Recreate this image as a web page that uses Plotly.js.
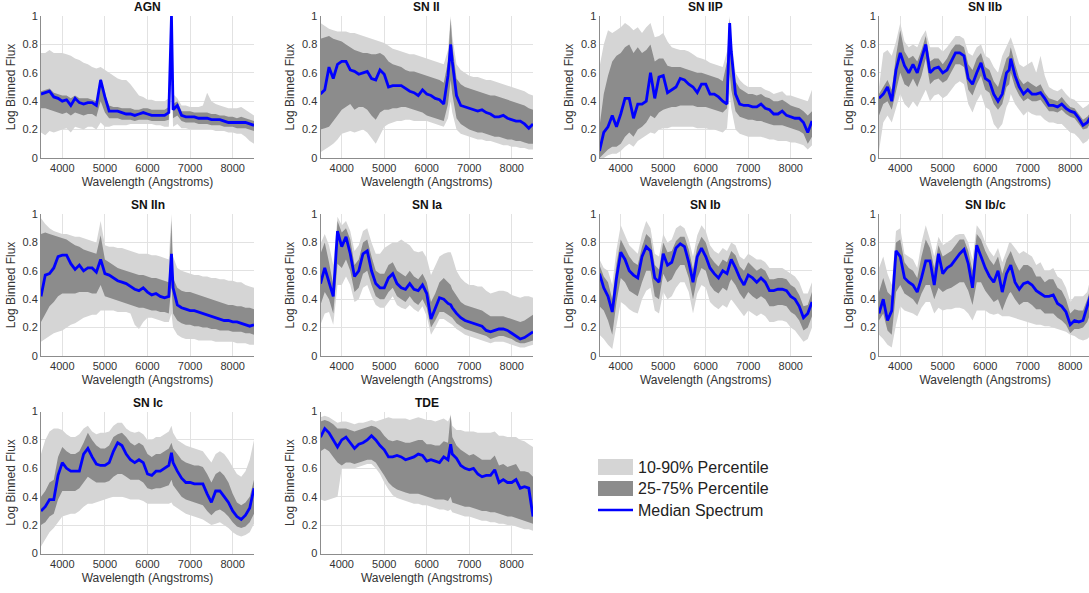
<!DOCTYPE html>
<html>
<head>
<meta charset="utf-8">
<script src="https://cdn.plot.ly/plotly-3.0.1.min.js"></script>
<style>html,body{margin:0;padding:0;overflow:hidden;background:#fff}</style>
</head>
<body>
<div id="chart"></div>
<script>
// ---------------- DATA ----------------
const wavelength = [3500,3600,3700,3800,3900,4000,4100,4200,4300,4400,
  4500,4600,4700,4800,4900,5000,5100,5200,5300,5400,
  5500,5600,5700,5800,5900,6000,6100,6200,6300,6400,
  6500,6563,6600,6700,6800,6900,7000,7100,7200,7300,
  7400,7500,7600,7700,7800,7900,8000,8100,8200,8300,
  8400,8500];
const classNames = ['AGN','SN II','SN IIP','SN IIb','SN IIn','SN Ia','SN Ib','SN Ib/c','SN Ic','TDE'];
const xTickVals = [4000,5000,6000,7000,8000];
const yTickVals = [0,0.2,0.4,0.6,0.8,1];
const yTickText = ['0','0.2','0.4','0.6','0.8','1'];
const legendLabels = ['10-90% Percentile','25-75% Percentile','Median Spectrum'];

// AGN
const agnMedian = [.45,.46,.47,.43,.42,.40,.41,.37,.42,.39, .38,.39,.39,.37,.55,.43,.33,.33,.33,.32, .31,.31,.30,.31,.32,.31,.30,.30,.30,.30, .32,1.0,.34,.37,.30,.29,.29,.29,.28,.28, .28,.27,.27,.27,.26,.25,.25,.25,.25,.25, .24,.23];
const agnP90 = [.74,.74,.76,.74,.74,.74,.73,.72,.70,.69, .67,.66,.64,.63,.64,.62,.60,.58,.56,.55, .55,.52,.48,.44,.43,.41,.41,.40,.40,.40, .42,1.0,.45,.42,.37,.37,.36,.36,.36,.37, .46,.40,.38,.37,.36,.35,.35,.35,.36,.34, .32,.30];
const agnP75 = [.47,.48,.49,.46,.45,.44,.44,.42,.44,.42, .42,.42,.41,.40,.56,.44,.37,.36,.36,.35, .35,.35,.34,.34,.35,.35,.34,.34,.34,.34, .36,.97,.38,.40,.33,.33,.33,.32,.32,.32, .32,.31,.31,.30,.30,.29,.29,.28,.29,.28, .27,.26];
const agnP25 = [.35,.35,.34,.33,.32,.31,.32,.30,.32,.31, .30,.31,.31,.29,.40,.32,.28,.28,.28,.27, .27,.27,.26,.27,.27,.27,.26,.26,.26,.26, .27,.80,.28,.30,.26,.25,.25,.25,.24,.24, .24,.23,.23,.23,.22,.22,.22,.21,.21,.21, .20,.19];
const agnP10 = [.18,.16,.19,.18,.19,.20,.21,.18,.22,.21, .20,.22,.22,.20,.25,.22,.22,.23,.23,.23, .23,.24,.24,.24,.24,.24,.24,.23,.23,.22, .22,.55,.22,.24,.21,.21,.20,.20,.20,.20, .20,.20,.19,.19,.19,.18,.18,.17,.17,.15, .12,.10];

// SN II
const sn2Median = [.45,.48,.64,.56,.66,.68,.68,.62,.61,.59, .60,.61,.56,.55,.62,.59,.50,.51,.51,.51, .49,.47,.46,.44,.48,.45,.44,.42,.41,.38, .58,.80,.68,.44,.37,.36,.35,.34,.33,.34, .32,.31,.29,.29,.30,.28,.27,.26,.26,.24, .21,.24];
const sn2P90 = [.95,.93,.91,.90,.89,.89,.89,.88,.88,.87, .86,.85,.84,.83,.82,.81,.79,.77,.76,.75, .74,.73,.73,.72,.71,.70,.69,.68,.67,.66, .76,1.0,.86,.66,.62,.60,.58,.57,.57,.56, .55,.55,.54,.53,.52,.51,.50,.49,.48,.47, .45,.44];
const sn2P75 = [.84,.85,.86,.84,.83,.82,.80,.78,.76,.75, .74,.74,.73,.73,.74,.72,.68,.66,.65,.64, .62,.61,.61,.60,.59,.58,.57,.56,.55,.53, .68,.98,.80,.56,.52,.50,.49,.48,.47,.46, .45,.44,.44,.43,.42,.41,.40,.39,.38,.37, .35,.34];
const sn2P25 = [.20,.21,.22,.26,.30,.34,.36,.38,.34,.36, .36,.34,.30,.27,.32,.34,.34,.35,.35,.36, .36,.35,.34,.33,.32,.30,.29,.28,.27,.26, .38,.55,.45,.28,.24,.22,.20,.19,.18,.18, .17,.16,.15,.15,.14,.13,.13,.12,.12,.11, .10,.10];
const sn2P10 = [.04,.06,.08,.10,.13,.17,.18,.19,.18,.19, .20,.18,.14,.10,.16,.22,.24,.25,.26,.26, .27,.27,.26,.26,.26,.26,.25,.24,.23,.22, .28,.40,.32,.20,.17,.16,.15,.14,.13,.13, .12,.12,.11,.10,.09,.09,.08,.08,.07,.07, .06,.06];

// SN IIP
const sn2pMedian = [.05,.18,.22,.30,.22,.31,.42,.42,.28,.38, .38,.40,.60,.42,.57,.58,.46,.48,.50,.56, .55,.52,.50,.46,.52,.52,.45,.45,.43,.40, .38,.95,.75,.45,.38,.37,.37,.36,.36,.38, .35,.34,.31,.31,.33,.30,.29,.28,.28,.25, .18,.26];
const sn2pP90 = [.64,.80,.90,.88,.90,.92,.95,.93,.90,.92, .88,.92,.95,.85,.86,.88,.82,.78,.77,.76, .76,.75,.73,.71,.70,.69,.67,.66,.65,.64, .75,1.0,.85,.60,.55,.52,.50,.50,.50,.50, .48,.47,.45,.46,.47,.44,.44,.43,.42,.41, .40,.48];
const sn2pP75 = [.22,.45,.58,.68,.72,.74,.78,.80,.74,.78, .74,.76,.80,.68,.70,.70,.65,.64,.64,.64, .63,.62,.61,.60,.60,.59,.58,.57,.56,.54, .68,.98,.80,.54,.49,.47,.45,.45,.44,.45, .43,.42,.40,.40,.41,.39,.37,.36,.35,.33, .30,.33];
const sn2pP25 = [.00,.03,.06,.08,.08,.10,.15,.18,.15,.20, .22,.25,.30,.28,.32,.34,.35,.36,.36,.37, .37,.37,.37,.36,.36,.36,.35,.34,.33,.32, .35,.60,.48,.33,.29,.28,.27,.27,.26,.26, .25,.24,.23,.23,.23,.22,.21,.20,.19,.17, .10,.15];
const sn2pP10 = [.00,.00,.02,.03,.03,.05,.08,.10,.08,.12, .14,.16,.18,.17,.20,.21,.21,.22,.22,.22, .22,.22,.22,.21,.21,.21,.20,.20,.19,.18, .21,.45,.35,.20,.17,.16,.15,.15,.15,.15, .14,.13,.13,.12,.12,.12,.11,.11,.10,.09, .06,.09];

// SN IIb
const sn2bMedian = [.42,.45,.50,.40,.62,.74,.65,.60,.66,.60, .70,.80,.60,.63,.64,.60,.62,.68,.74,.74, .72,.56,.52,.60,.67,.56,.54,.45,.40,.45, .60,.62,.70,.58,.50,.45,.48,.45,.45,.46, .42,.37,.37,.36,.38,.35,.33,.32,.28,.23, .25,.30];
const sn2bP90 = [.50,.74,.76,.72,.82,.95,.82,.78,.80,.78, .85,.90,.78,.78,.78,.75,.78,.82,.86,.86, .84,.74,.72,.78,.80,.72,.70,.64,.60,.72, .78,.82,.85,.76,.66,.64,.66,.68,.60,.72, .58,.50,.48,.47,.49,.45,.42,.41,.38,.35, .37,.40];
const sn2bP75 = [.45,.50,.55,.48,.72,.90,.75,.70,.72,.68, .76,.86,.68,.70,.70,.66,.70,.76,.80,.80, .78,.66,.62,.70,.74,.64,.62,.54,.50,.60, .70,.72,.78,.66,.56,.52,.54,.52,.50,.52, .46,.42,.41,.40,.43,.39,.36,.35,.31,.27, .29,.33];
const sn2bP25 = [.30,.38,.40,.34,.48,.60,.52,.50,.56,.50, .58,.70,.52,.55,.56,.53,.55,.60,.66,.66, .64,.48,.44,.52,.58,.48,.46,.38,.34,.38, .50,.52,.60,.50,.44,.40,.42,.40,.40,.41, .37,.33,.33,.32,.34,.31,.29,.28,.24,.20, .21,.26];
const sn2bP10 = [.05,.25,.30,.25,.35,.45,.38,.35,.40,.36, .42,.48,.40,.44,.45,.42,.44,.48,.52,.54, .52,.38,.32,.40,.45,.36,.34,.24,.20,.24, .36,.40,.45,.38,.34,.30,.33,.31,.30,.30, .27,.25,.25,.24,.24,.21,.18,.17,.14,.10, .12,.16];

// SN IIn
const sn2nMedian = [.42,.57,.58,.62,.70,.71,.71,.65,.61,.64, .60,.62,.62,.59,.68,.58,.57,.55,.53,.52, .51,.49,.47,.46,.48,.45,.43,.44,.42,.41, .42,.72,.48,.36,.34,.33,.32,.32,.31,.30, .29,.28,.27,.26,.25,.25,.24,.24,.23,.22, .21,.22];
const sn2nP90 = [.97,.93,.90,.88,.87,.86,.86,.85,.84,.84, .83,.82,.81,.80,.95,.78,.77,.77,.76,.76, .75,.74,.73,.72,.72,.72,.71,.71,.70,.69, .68,1.0,.70,.62,.60,.59,.58,.57,.57,.56, .56,.55,.55,.54,.54,.53,.53,.52,.52,.50, .49,.48];
const sn2nP75 = [.86,.87,.86,.85,.84,.83,.82,.80,.78,.77, .75,.74,.73,.72,.85,.68,.66,.64,.62,.61, .60,.59,.58,.57,.57,.56,.55,.55,.54,.53, .52,.95,.55,.48,.46,.45,.45,.44,.43,.42, .41,.40,.39,.38,.37,.36,.36,.35,.35,.34, .34,.33];
const sn2nP25 = [.24,.30,.35,.38,.42,.44,.44,.44,.44,.45, .45,.45,.44,.44,.50,.42,.41,.40,.39,.38, .37,.36,.35,.34,.34,.33,.32,.32,.31,.31, .30,.50,.30,.25,.23,.22,.22,.21,.21,.20, .20,.19,.19,.18,.18,.18,.17,.17,.17,.16, .16,.15];
const sn2nP10 = [.10,.12,.14,.16,.17,.18,.20,.22,.23,.25, .27,.28,.29,.29,.32,.32,.32,.32,.31,.31, .31,.30,.22,.19,.24,.27,.27,.26,.25,.24, .24,.30,.20,.15,.13,.12,.12,.12,.11,.11, .11,.11,.10,.10,.10,.10,.10,.09,.09,.09, .08,.08];

// SN Ia
const sn1aMedian = [.51,.62,.52,.42,.88,.77,.84,.72,.56,.60, .72,.74,.60,.51,.48,.48,.55,.58,.51,.48, .47,.51,.47,.46,.50,.44,.26,.33,.41,.40, .37,.36,.34,.30,.27,.25,.24,.23,.22,.21, .18,.17,.18,.19,.19,.18,.16,.14,.12,.13, .15,.17];
const sn1aP90 = [.79,.86,.78,.64,.98,.92,.95,.88,.74,.78, .88,.90,.80,.72,.72,.76,.78,.80,.80,.82, .80,.78,.74,.73,.74,.69,.57,.64,.70,.72, .73,.73,.70,.60,.55,.52,.50,.50,.49,.49, .46,.44,.45,.46,.46,.45,.43,.42,.41,.42, .42,.41];
const sn1aP75 = [.72,.80,.66,.50,.95,.87,.90,.82,.64,.68, .80,.82,.70,.60,.58,.58,.64,.66,.60,.58, .56,.60,.56,.54,.58,.52,.38,.44,.52,.55, .52,.50,.47,.42,.38,.36,.35,.34,.33,.32, .30,.28,.28,.28,.28,.27,.26,.25,.24,.25, .27,.29];
const sn1aP25 = [.36,.45,.40,.30,.65,.62,.68,.60,.45,.48, .58,.60,.50,.42,.40,.40,.45,.48,.42,.40, .38,.42,.38,.36,.40,.34,.20,.25,.31,.31, .29,.28,.27,.23,.21,.19,.18,.17,.16,.15, .14,.12,.13,.14,.14,.13,.12,.10,.09,.09, .10,.11];
const sn1aP10 = [.22,.30,.31,.22,.50,.50,.56,.50,.38,.40, .48,.50,.42,.36,.34,.34,.38,.42,.36,.34, .33,.36,.33,.31,.35,.28,.15,.20,.26,.26, .24,.23,.22,.19,.17,.15,.14,.13,.12,.11, .10,.09,.10,.10,.10,.09,.08,.07,.06,.06, .07,.08];

// SN Ib
const sn1bMedian = [.58,.48,.42,.31,.55,.73,.68,.60,.57,.55, .70,.77,.74,.55,.52,.72,.64,.66,.76,.79, .77,.66,.52,.70,.76,.70,.62,.58,.55,.60, .58,.65,.68,.62,.55,.50,.57,.55,.52,.55, .52,.46,.46,.47,.47,.46,.42,.40,.35,.27, .30,.38];
const sn1bP90 = [.68,.62,.60,.50,.75,.92,.85,.78,.75,.72, .86,.95,.90,.72,.70,.86,.80,.82,.90,.92, .90,.82,.70,.85,.92,.88,.78,.74,.72,.76, .74,.78,.80,.78,.70,.68,.72,.70,.68,.68, .66,.62,.62,.62,.62,.60,.58,.56,.52,.44, .44,.52];
const sn1bP75 = [.64,.56,.52,.40,.65,.82,.76,.70,.66,.64, .77,.86,.83,.64,.61,.80,.73,.74,.81,.84, .84,.75,.61,.77,.84,.80,.70,.66,.63,.68, .66,.72,.74,.71,.63,.60,.66,.63,.60,.62, .60,.54,.54,.55,.55,.54,.50,.48,.43,.35, .36,.45];
const sn1bP25 = [.35,.32,.25,.15,.38,.55,.52,.46,.44,.42, .52,.60,.60,.42,.40,.58,.52,.54,.60,.64, .64,.55,.40,.55,.62,.60,.50,.46,.44,.48, .46,.52,.54,.50,.44,.40,.45,.42,.40,.42, .40,.35,.35,.36,.36,.35,.31,.29,.25,.18, .20,.28];
const sn1bP10 = [.15,.12,.08,.05,.22,.38,.36,.33,.31,.30, .40,.46,.48,.32,.30,.45,.40,.42,.48,.52, .52,.45,.30,.44,.50,.48,.38,.35,.33,.36, .34,.38,.40,.36,.32,.28,.32,.30,.28,.30, .28,.24,.24,.25,.25,.24,.20,.18,.14,.10, .12,.20];

// SN Ib/c
const sn1bcMedian = [.30,.40,.25,.32,.74,.70,.55,.52,.50,.45, .55,.67,.67,.50,.72,.58,.62,.64,.68,.72, .75,.65,.48,.78,.70,.62,.56,.52,.60,.45, .58,.62,.64,.52,.47,.51,.52,.50,.46,.44, .42,.42,.43,.37,.35,.31,.22,.25,.24,.25, .35,.45];
const sn1bcP90 = [.62,.70,.58,.50,.88,.90,.72,.70,.68,.62, .80,.92,.82,.70,.84,.78,.80,.82,.85,.86, .86,.80,.68,.92,.88,.80,.74,.70,.76,.66, .74,.80,.80,.76,.72,.74,.72,.70,.64,.66, .60,.60,.62,.56,.54,.48,.38,.42,.42,.42, .45,.58];
const sn1bcP75 = [.45,.55,.45,.42,.80,.82,.66,.62,.60,.55, .70,.82,.76,.62,.78,.70,.72,.74,.78,.82, .82,.74,.60,.86,.82,.74,.68,.64,.70,.58, .68,.72,.74,.66,.60,.64,.64,.62,.56,.56, .52,.54,.54,.48,.46,.40,.30,.33,.32,.32, .40,.50];
const sn1bcP25 = [.25,.30,.18,.15,.45,.50,.44,.42,.40,.36, .44,.50,.50,.40,.48,.45,.47,.48,.50,.52, .52,.46,.36,.52,.52,.46,.42,.38,.40,.32, .40,.44,.45,.40,.36,.38,.38,.36,.33,.33, .30,.30,.30,.27,.25,.22,.16,.19,.19,.20, .24,.32];
const sn1bcP10 = [.15,.12,.08,.06,.22,.35,.32,.31,.30,.28, .34,.38,.38,.30,.34,.32,.33,.33,.34,.34, .33,.30,.25,.32,.32,.32,.30,.29,.30,.28, .28,.28,.28,.27,.26,.25,.24,.23,.22,.22, .21,.21,.20,.19,.18,.17,.15,.14,.12,.11, .12,.15];

// SN Ic
const sn1cMedian = [.30,.33,.38,.38,.55,.64,.60,.58,.58,.58, .70,.74,.68,.63,.62,.62,.64,.72,.78,.76, .70,.66,.64,.66,.64,.56,.55,.58,.58,.60, .62,.71,.64,.58,.53,.50,.50,.49,.49,.49, .42,.36,.44,.44,.40,.36,.30,.26,.24,.27, .32,.46];
const sn1cP90 = [.70,.80,.86,.88,.88,.87,.84,.82,.82,.84, .88,.90,.86,.84,.85,.85,.86,.90,.92,.92, .88,.86,.85,.86,.84,.80,.80,.82,.82,.84, .86,.90,.85,.80,.78,.76,.75,.74,.73,.72, .68,.64,.70,.72,.70,.66,.61,.56,.54,.58, .66,.80];
const sn1cP75 = [.40,.44,.50,.52,.68,.75,.72,.70,.70,.72, .78,.85,.80,.76,.74,.74,.76,.82,.84,.85, .82,.78,.76,.78,.76,.70,.68,.70,.70,.72, .74,.78,.74,.70,.66,.64,.63,.62,.62,.61, .56,.50,.56,.58,.55,.50,.42,.36,.34,.36, .40,.52];
const sn1cP25 = [.20,.22,.26,.28,.38,.44,.44,.44,.44,.46, .50,.54,.52,.50,.50,.50,.51,.54,.56,.56, .54,.52,.52,.52,.50,.46,.45,.46,.46,.47, .48,.52,.48,.44,.40,.38,.37,.36,.35,.34, .30,.27,.30,.31,.29,.26,.22,.19,.18,.19, .22,.28];
const sn1cP10 = [.05,.10,.15,.18,.22,.26,.27,.28,.28,.30, .33,.35,.35,.36,.37,.38,.39,.40,.40,.40, .39,.38,.38,.38,.37,.35,.35,.35,.35,.35, .35,.36,.34,.32,.30,.28,.27,.26,.25,.24, .22,.20,.21,.22,.20,.18,.15,.13,.12,.13, .15,.21];

// TDE
const tdeMedian = [.82,.88,.85,.80,.75,.80,.82,.78,.74,.77, .78,.80,.83,.80,.76,.73,.68,.68,.69,.68, .66,.67,.68,.70,.69,.65,.66,.65,.64,.68, .66,.77,.70,.67,.62,.60,.59,.60,.56,.54, .55,.55,.59,.50,.52,.50,.50,.52,.46,.47, .46,.26];
const tdeP90 = [.96,.97,.96,.94,.92,.93,.93,.92,.91,.92, .92,.93,.94,.93,.94,.95,.96,.95,.95,.95, .95,.94,.95,.96,.95,.94,.94,.93,.94,.95, .93,.97,.90,.87,.87,.86,.86,.86,.85,.85, .85,.85,.86,.83,.83,.82,.82,.82,.80,.79, .77,.75];
const tdeP75 = [.93,.94,.93,.91,.88,.88,.88,.87,.86,.87, .88,.89,.90,.89,.87,.83,.80,.79,.80,.79, .78,.78,.79,.80,.80,.77,.77,.76,.76,.79, .78,.98,.82,.76,.73,.71,.69,.70,.68,.66, .66,.66,.69,.62,.63,.61,.62,.63,.58,.58, .57,.54];
const tdeP25 = [.72,.74,.72,.68,.64,.62,.64,.64,.63,.64, .65,.66,.66,.64,.60,.55,.50,.47,.45,.44, .43,.42,.42,.42,.41,.40,.39,.38,.38,.38, .37,.40,.36,.35,.34,.33,.33,.32,.31,.30, .30,.29,.29,.28,.27,.26,.26,.25,.24,.23, .22,.21];
const tdeP10 = [.38,.37,.38,.39,.40,.60,.60,.60,.60,.61, .62,.63,.63,.60,.56,.50,.45,.41,.39,.38, .37,.36,.35,.35,.34,.34,.33,.32,.31,.31, .30,.31,.29,.28,.27,.26,.26,.25,.24,.23, .23,.22,.22,.21,.21,.20,.20,.19,.18,.17, .17,.16];

// ---------------- BUILD ----------------
const series = [
  [agnP10, agnP25, agnMedian, agnP75, agnP90],
  [sn2P10, sn2P25, sn2Median, sn2P75, sn2P90],
  [sn2pP10, sn2pP25, sn2pMedian, sn2pP75, sn2pP90],
  [sn2bP10, sn2bP25, sn2bMedian, sn2bP75, sn2bP90],
  [sn2nP10, sn2nP25, sn2nMedian, sn2nP75, sn2nP90],
  [sn1aP10, sn1aP25, sn1aMedian, sn1aP75, sn1aP90],
  [sn1bP10, sn1bP25, sn1bMedian, sn1bP75, sn1bP90],
  [sn1bcP10, sn1bcP25, sn1bcMedian, sn1bcP75, sn1bcP90],
  [sn1cP10, sn1cP25, sn1cMedian, sn1cP75, sn1cP90],
  [tdeP10, tdeP25, tdeMedian, tdeP75, tdeP90]
];

const W = 1092, H = 593;
const colPx = [[41,254],[320.5,533],[599.5,812],[879,1091.5]];
const rowPx = [[16,158],[214,356],[411.5,553.5]];
const LIGHT = 'rgb(213,213,213)', DARK = 'rgb(140,140,140)', BLUE = 'rgb(0,0,255)';
const FONT = 'Liberation Sans, Arial, Helvetica, sans-serif';

const revWl = wavelength.slice().reverse();
const traces = [];
const layout = {
  width: W, height: H,
  margin: {l:0, r:0, t:0, b:0},
  paper_bgcolor: '#fff', plot_bgcolor: '#fff',
  showlegend: false,
  font: {family: FONT, color: '#333'},
  annotations: [], shapes: []
};

series.forEach((s, i) => {
  const [p10, p25, med, p75, p90] = s;
  const row = Math.floor(i / 4), col = i % 4;
  const xid = i === 0 ? 'x' : 'x' + (i + 1);
  const yid = i === 0 ? 'y' : 'y' + (i + 1);
  const xk = i === 0 ? 'xaxis' : 'xaxis' + (i + 1);
  const yk = i === 0 ? 'yaxis' : 'yaxis' + (i + 1);
  traces.push({
    type: 'scatter', mode: 'lines', xaxis: xid, yaxis: yid,
    x: wavelength.concat(revWl), y: p90.concat(p10.slice().reverse()),
    fill: 'toself', fillcolor: LIGHT, line: {width: 0, color: LIGHT},
    hoverinfo: 'skip', name: legendLabels[0]
  });
  traces.push({
    type: 'scatter', mode: 'lines', xaxis: xid, yaxis: yid,
    x: wavelength.concat(revWl), y: p75.concat(p25.slice().reverse()),
    fill: 'toself', fillcolor: DARK, line: {width: 0, color: DARK},
    hoverinfo: 'skip', name: legendLabels[1]
  });
  traces.push({
    type: 'scatter', mode: 'lines', xaxis: xid, yaxis: yid,
    x: wavelength, y: med, line: {color: BLUE, width: 2.8},
    name: legendLabels[2]
  });
  const [x0, x1] = colPx[col], [t, b] = rowPx[row];
  layout[xk] = {
    domain: [x0 / W, x1 / W], anchor: yid, range: [3500, 8500],
    tickvals: xTickVals, ticks: '', showgrid: true, gridcolor: '#e2e2e2', gridwidth: 1,
    showline: true, linecolor: '#8c8c8c', linewidth: 1, zeroline: false, mirror: false,
    tickfont: {size: 11, color: '#333'},
    title: {text: 'Wavelength (Angstroms)', font: {size: 12, color: '#333'}, standoff: 4},
    fixedrange: true
  };
  layout[yk] = {
    domain: [1 - b / H, 1 - t / H], anchor: xid, range: [0, 1],
    tickvals: yTickVals, ticktext: yTickText, ticks: '', showgrid: true, gridcolor: '#e2e2e2',
    showline: true, linecolor: '#8c8c8c', linewidth: 1, zeroline: false,
    tickfont: {size: 11, color: '#333'},
    title: {text: 'Log Binned Flux', font: {size: 12, color: '#333'}, standoff: 4},
    fixedrange: true
  };
  layout.annotations.push({
    xref: 'paper', yref: 'paper', x: (x0 + x1) / 2 / W, y: 1 - (t - 9) / H,
    xanchor: 'center', yanchor: 'middle', showarrow: false,
    text: '<b>' + classNames[i] + '</b>', font: {size: 12, color: '#111', family: FONT}
  });
});

// Legend (patches + labels)
const legX0 = 598, legX1 = 633, legTextX = 636;
const legRows = [[459, 475, LIGHT], [481, 496, DARK]];
legRows.forEach(([y0, y1, c], k) => {
  layout.shapes.push({type: 'rect', xref: 'paper', yref: 'paper',
    x0: legX0 / W, x1: legX1 / W, y0: 1 - y1 / H, y1: 1 - y0 / H,
    fillcolor: c, line: {width: 0}});
  layout.annotations.push({xref: 'paper', yref: 'paper', x: legTextX / W, y: 1 - ((y0 + y1) / 2) / H,
    xanchor: 'left', yanchor: 'middle', showarrow: false, text: legendLabels[k],
    font: {size: 16, color: '#222', family: FONT}});
});
layout.shapes.push({type: 'line', xref: 'paper', yref: 'paper',
  x0: legX0 / W, x1: legX1 / W, y0: 1 - 510 / H, y1: 1 - 510 / H,
  line: {color: BLUE, width: 2.5}});
layout.annotations.push({xref: 'paper', yref: 'paper', x: legTextX / W, y: 1 - 510 / H,
  xanchor: 'left', yanchor: 'middle', showarrow: false, text: legendLabels[2],
  font: {size: 16, color: '#222', family: FONT}});

Plotly.newPlot('chart', traces, layout, {displayModeBar: false, staticPlot: true});
</script>
</body>
</html>
